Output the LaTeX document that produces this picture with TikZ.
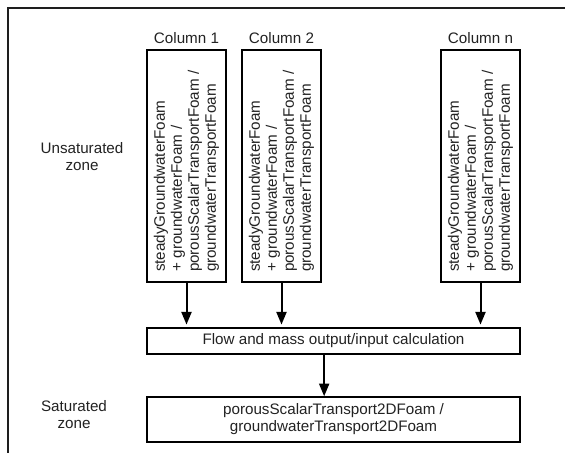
\documentclass[tikz,border=0pt]{standalone}
\usepackage{fontspec}
\setmainfont{Liberation Sans}
\usetikzlibrary{arrows.meta}

\begin{document}
\begin{tikzpicture}[x=0.75pt,y=0.75pt,yscale=-1,xscale=1,
  every node/.style={font=\fontsize{11.4}{12.75}\selectfont, text={rgb, 255:red, 34; green, 34; blue, 34 }},
  colbox/.style={draw, line width=1.1pt, rotate=90, minimum width=174pt, minimum height=59.25pt, text width=159pt, inner xsep=7.5pt, align=left},
  calcbox/.style={draw, line width=1.1pt, minimum width=279.75pt, align=center},
  flowarrow/.style={line width=1.5pt, -{Triangle[length=9.5pt,width=7.5pt]}}]
\useasboundingbox (0,0) rectangle (565,453);

%Shape: Frame [id:frame]
\draw [color={rgb, 255:red, 30; green, 30; blue, 30 }  ,line width=1.5pt ]  (8,470) -- (8,8) -- (580,8) ;

%Shape: Rectangle [id:col1]
\node [colbox] (col1) at (186.5,166) {steadyGroundwaterFoam\\+ groundwaterFoam /\\porousScalarTransportFoam /\\groundwaterTransportFoam};
%Shape: Rectangle [id:col2]
\node [colbox] (col2) at (281.5,166) {steadyGroundwaterFoam\\+ groundwaterFoam /\\porousScalarTransportFoam /\\groundwaterTransportFoam};
%Shape: Rectangle [id:coln]
\node [colbox] (coln) at (480.5,166) {steadyGroundwaterFoam\\+ groundwaterFoam /\\porousScalarTransportFoam /\\groundwaterTransportFoam};

%Text Nodes [id:titles]
\node (title1) at (186.5,38) {Column 1};
\node (title2) at (281.5,38) {Column 2};
\node (titlen) at (480.5,38) {Column n};

%Text Nodes [id:zones]
\node [align=center] (unsat) at (82,156.5) {Unsaturated\\zone};
\node [align=center] (sat) at (74,414.5) {Saturated\\zone};

%Shape: Rectangle [id:flow]
\node [calcbox, minimum height=19.5pt] (flow) at (333.5,341) {Flow and mass output/input calculation};
%Shape: Rectangle [id:satbox]
\node [calcbox, minimum height=33.75pt] (satbox) at (333.5,419.5) {porousScalarTransport2DFoam /\\groundwaterTransport2DFoam};

%Straight Lines [id:arrows]
\draw [flowarrow, shorten >=2pt]  (col1.west) -- (col1.west |- flow.north) ;
\draw [flowarrow, shorten >=2pt]  (col2.west) -- (col2.west |- flow.north) ;
\draw [flowarrow, shorten >=2pt]  (coln.west) -- (coln.west |- flow.north) ;
\draw [flowarrow]  ([xshift=-7pt]flow.south) -- ([xshift=-7pt]satbox.north) ;

\end{tikzpicture}
\end{document}
